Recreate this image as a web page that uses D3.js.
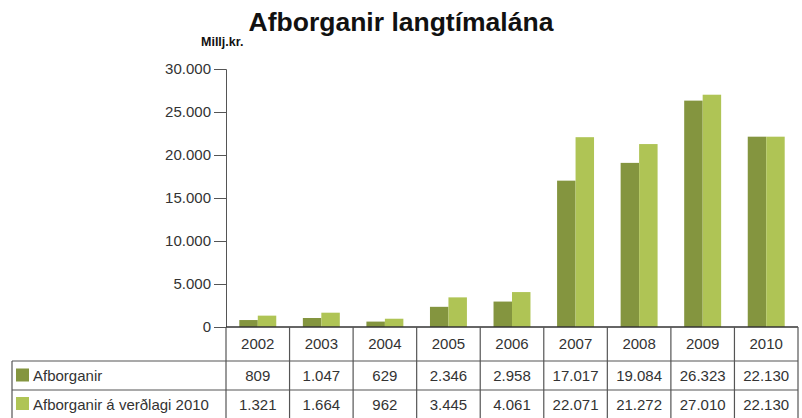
<!DOCTYPE html>
<html>
<head>
<meta charset="utf-8">
<script src="https://cdn.jsdelivr.net/npm/d3@7"></script>
<style>
body { margin: 0; background: #fff; }
svg text { font-family: "Liberation Sans", Arial, sans-serif; }
</style>
</head>
<body>
<svg id="chart" width="802" height="418"></svg>
<script>
var years = ["2002", "2003", "2004", "2005", "2006", "2007", "2008", "2009", "2010"];
var seriesNames = ["Afborganir", "Afborganir á verðlagi 2010"];
var afborganir = [809, 1047, 629, 2346, 2958, 17017, 19084, 26323, 22130];
var afborganirVerdlag = [1321, 1664, 962, 3445, 4061, 22071, 21272, 27010, 22130];
var yTicks = [0, 5000, 10000, 15000, 20000, 25000, 30000];
var colors = ["#84953f", "#afc455"];

var series = [afborganir, afborganirVerdlag];
var svg = d3.select("#chart");

var x0 = 226, x1 = 798, yZero = 327;

var x = d3.scaleBand()
    .domain(years)
    .range([x0, x1])
    .paddingInner(0)
    .paddingOuter(0);

var xInner = d3.scaleBand()
    .domain([0, 1])
    .range([0, x.bandwidth()])
    .paddingOuter(0.72);

var y = d3.scaleLinear()
    .domain([0, 30000])
    .range([yZero, 69]);

var fmt = function(v) { return d3.format(",")(v).replace(/,/g, "."); };

// title
svg.append("text")
    .attr("x", 401)
    .attr("y", 31)
    .attr("text-anchor", "middle")
    .attr("font-size", 26.5)
    .attr("font-weight", "bold")
    .attr("fill", "#111")
    .text("Afborganir langtímalána");

svg.append("text")
    .attr("x", 201)
    .attr("y", 46)
    .attr("font-size", 12.5)
    .attr("font-weight", "bold")
    .attr("fill", "#111")
    .text("Millj.kr.");

// bars
svg.append("g")
    .selectAll("g")
    .data(years)
    .enter().append("g")
    .attr("transform", function(d) { return "translate(" + x(d) + ",0)"; })
    .selectAll("rect")
    .data(function(d, i) { return series.map(function(s, j) { return {k: j, v: s[i]}; }); })
    .enter().append("rect")
    .attr("x", function(d) { return xInner(d.k); })
    .attr("width", xInner.bandwidth())
    .attr("y", function(d) { return y(d.v); })
    .attr("height", function(d) { return yZero - y(d.v); })
    .attr("fill", function(d) { return colors[d.k]; });

// y axis
var yAxis = svg.append("g")
    .attr("transform", "translate(" + x0 + ",0)")
    .call(d3.axisLeft(y)
        .tickValues(yTicks)
        .tickSize(12)
        .tickPadding(3)
        .tickFormat(fmt));
yAxis.select(".domain").attr("stroke", "#555");
yAxis.selectAll(".tick line").attr("stroke", "#555");
yAxis.selectAll(".tick text")
    .attr("font-size", 15)
    .attr("fill", "#333")
    .style("font-family", "Liberation Sans, Arial, sans-serif");

// data table
var rowTops = [327, 361, 390, 418];
var tbl = svg.append("g");
var lineColor = "#555";

// horizontal lines
tbl.append("line").attr("x1", x0).attr("x2", x1).attr("y1", rowTops[0]).attr("y2", rowTops[0])
    .attr("stroke", "#333").attr("stroke-width", 1.5);
tbl.selectAll("line.h")
    .data(rowTops.slice(1, 3))
    .enter().append("line")
    .attr("class", "h")
    .attr("x1", 12).attr("x2", x1)
    .attr("y1", function(d) { return d; }).attr("y2", function(d) { return d; })
    .attr("stroke", lineColor).attr("stroke-width", 1.2);

// vertical lines
tbl.selectAll("line.v")
    .data(years.map(function(d) { return x(d); }).concat([x1]))
    .enter().append("line")
    .attr("class", "v")
    .attr("x1", function(d) { return d; }).attr("x2", function(d) { return d; })
    .attr("y1", rowTops[0]).attr("y2", 418)
    .attr("stroke", lineColor).attr("stroke-width", 1.2);
tbl.append("line").attr("x1", 12).attr("x2", 12).attr("y1", rowTops[1]).attr("y2", 418)
    .attr("stroke", lineColor).attr("stroke-width", 1.2);

// header years
tbl.selectAll("text.yr")
    .data(years)
    .enter().append("text")
    .attr("class", "yr")
    .attr("x", function(d) { return x(d) + x.bandwidth() / 2; })
    .attr("y", 349)
    .attr("text-anchor", "middle")
    .attr("font-size", 15)
    .attr("fill", "#333")
    .text(function(d) { return d; });

// value rows
series.forEach(function(s, j) {
    var cy = (rowTops[j + 1] + rowTops[j + 2]) / 2;
    tbl.append("rect")
        .attr("x", 16).attr("y", cy - 7)
        .attr("width", 13).attr("height", 13)
        .attr("fill", colors[j]);
    tbl.append("text")
        .attr("x", 33).attr("y", cy + 5.5)
        .attr("font-size", 15)
        .attr("fill", "#333")
        .text(seriesNames[j]);
    tbl.selectAll("text.v" + j)
        .data(s)
        .enter().append("text")
        .attr("class", "v" + j)
        .attr("x", function(d, i) { return x(years[i]) + x.bandwidth() / 2; })
        .attr("y", cy + 5.5)
        .attr("text-anchor", "middle")
        .attr("font-size", 15)
        .attr("fill", "#333")
        .text(fmt);
});
</script>
</body>
</html>
